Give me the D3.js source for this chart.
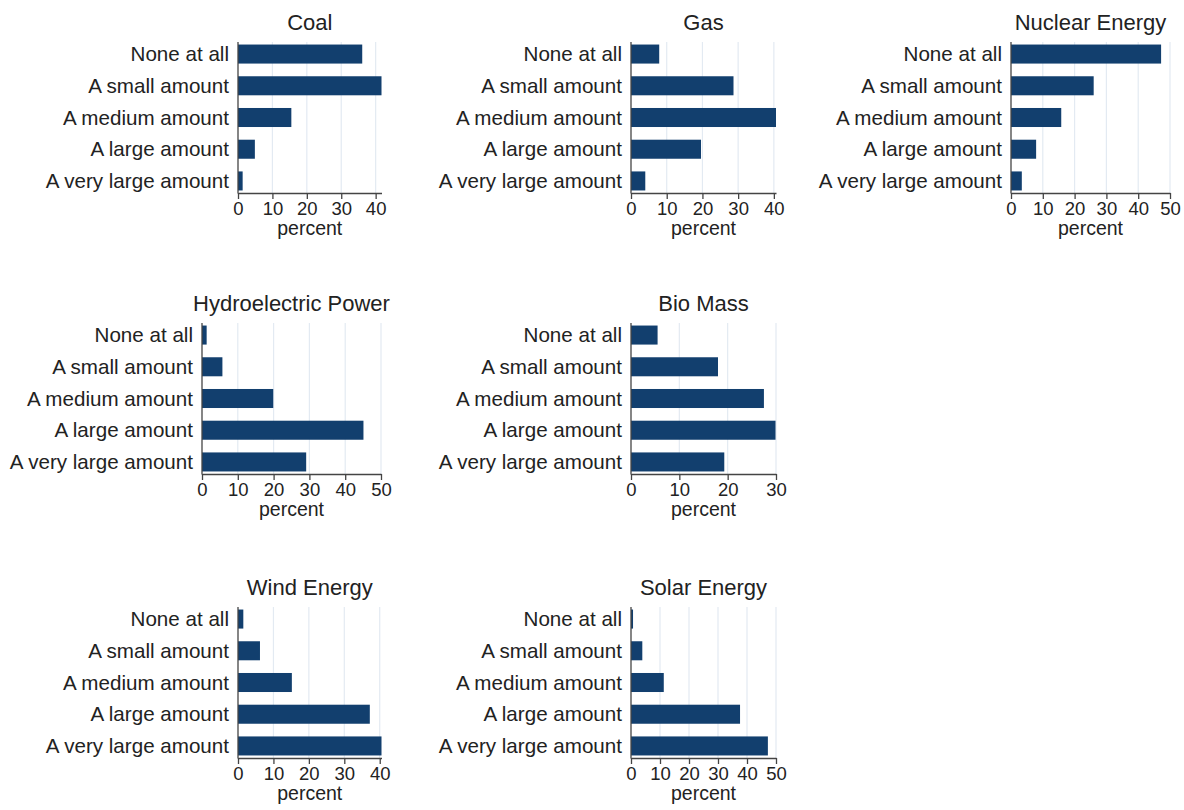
<!DOCTYPE html>
<html>
<head>
<meta charset="utf-8">
<script src="https://cdn.jsdelivr.net/npm/d3@7"></script>
<style>
  body { margin: 0; background: #fff; }
  text { font-family: "Liberation Sans", Arial, sans-serif; fill: #222; }
</style>
</head>
<body>
<script>
// Answer categories (same for every panel)
var categories = ["None at all", "A small amount", "A medium amount", "A large amount", "A very large amount"];

// Panel titles
var titles = ["Coal", "Gas", "Nuclear Energy", "Hydroelectric Power", "Bio Mass", "Wind Energy", "Solar Energy"];

// percent values, one array per source
var coal = [36.1, 41.7, 15.5, 4.9, 1.35];
var gas = [7.9, 28.7, 40.6, 19.6, 4.0];
var nuclear = [47.2, 26.0, 15.8, 7.9, 3.4];
var hydro = [1.3, 5.7, 19.9, 45.1, 29.1];
var biomass = [5.5, 18.0, 27.5, 29.9, 19.3];
var wind = [1.5, 6.2, 15.2, 37.2, 40.5];
var solar = [0.7, 3.9, 11.3, 37.6, 47.2];

// x tick labels for each panel
var ticks40 = [0, 10, 20, 30, 40],
    ticks50 = [0, 10, 20, 30, 40, 50],
    ticks30 = [0, 10, 20, 30];

var series = [coal, gas, nuclear, hydro, biomass, wind, solar];
var tickSets = [ticks40, ticks40, ticks50, ticks50, ticks30, ticks40, ticks50];

// plot region of every panel (left edge, right edge, top)
var layout = [
    { left: 238, right: 381.5, top: 42 },
    { left: 631, right: 776, top: 42 },
    { left: 1011, right: 1170, top: 42 },
    { left: 202, right: 381, top: 323 },
    { left: 631, right: 776, top: 323 },
    { left: 238, right: 381.5, top: 607 },
    { left: 631, right: 776, top: 607 }
];
var plotH = 151;

var svg = d3.select("body").append("svg")
    .attr("width", 1184)
    .attr("height", 810);

titles.forEach(function (title, i) {
    var L = layout[i],
        vals = series[i],
        tks = tickSets[i];

    var xMax = Math.max(d3.max(vals), tks[tks.length - 1]);
    var x = d3.scaleLinear().domain([0, xMax]).range([L.left, L.right]);
    var y = d3.scalePoint().domain(categories)
        .range([L.top, L.top + plotH]).padding(0.38);
    var barH = y.step() * 0.6;
    var bottom = L.top + plotH;

    var g = svg.append("g");

    // grid lines
    g.selectAll("line.grid")
        .data(tks.filter(function (t) { return t > 0; }))
        .enter().append("line")
        .attr("x1", function (d) { return x(d); })
        .attr("x2", function (d) { return x(d); })
        .attr("y1", L.top)
        .attr("y2", bottom)
        .attr("stroke", "#e3eaf2")
        .attr("stroke-width", 1.2);

    // bars
    g.selectAll("rect.bar")
        .data(vals)
        .enter().append("rect")
        .attr("x", x(0))
        .attr("y", function (d, j) { return y(categories[j]) - barH / 2; })
        .attr("width", function (d) { return x(d) - x(0); })
        .attr("height", barH)
        .attr("fill", "#123f6e");

    // y axis labels
    g.selectAll("text.cat")
        .data(categories)
        .enter().append("text")
        .attr("x", L.left - 9)
        .attr("y", function (d) { return y(d); })
        .attr("dy", "0.35em")
        .attr("text-anchor", "end")
        .style("font-size", "20.6px")
        .text(function (d) { return d; });

    // x axis
    var xAxis = g.append("g")
        .attr("transform", "translate(0," + bottom + ")")
        .call(d3.axisBottom(x).tickValues(tks).tickSize(6).tickPadding(3).tickSizeOuter(0));
    xAxis.select(".domain").attr("stroke", "#444").attr("stroke-width", 1.3);
    xAxis.selectAll(".tick line").attr("stroke", "#444").attr("stroke-width", 1.3);
    xAxis.selectAll(".tick text")
        .style("font-size", "18.5px")
        .style("font-family", "'Liberation Sans', Arial, sans-serif")
        .attr("fill", "#222");

    // y axis line
    g.append("line")
        .attr("x1", L.left).attr("x2", L.left)
        .attr("y1", L.top).attr("y2", bottom + 0.5)
        .attr("stroke", "#444")
        .attr("stroke-width", 1.3);

    // axis title
    g.append("text")
        .attr("x", (L.left + L.right) / 2)
        .attr("y", bottom + 42)
        .attr("text-anchor", "middle")
        .style("font-size", "19.5px")
        .text("percent");

    // panel title
    g.append("text")
        .attr("x", (L.left + L.right) / 2)
        .attr("y", L.top - 12)
        .attr("text-anchor", "middle")
        .style("font-size", "22px")
        .text(title);
});
</script>
</body>
</html>
